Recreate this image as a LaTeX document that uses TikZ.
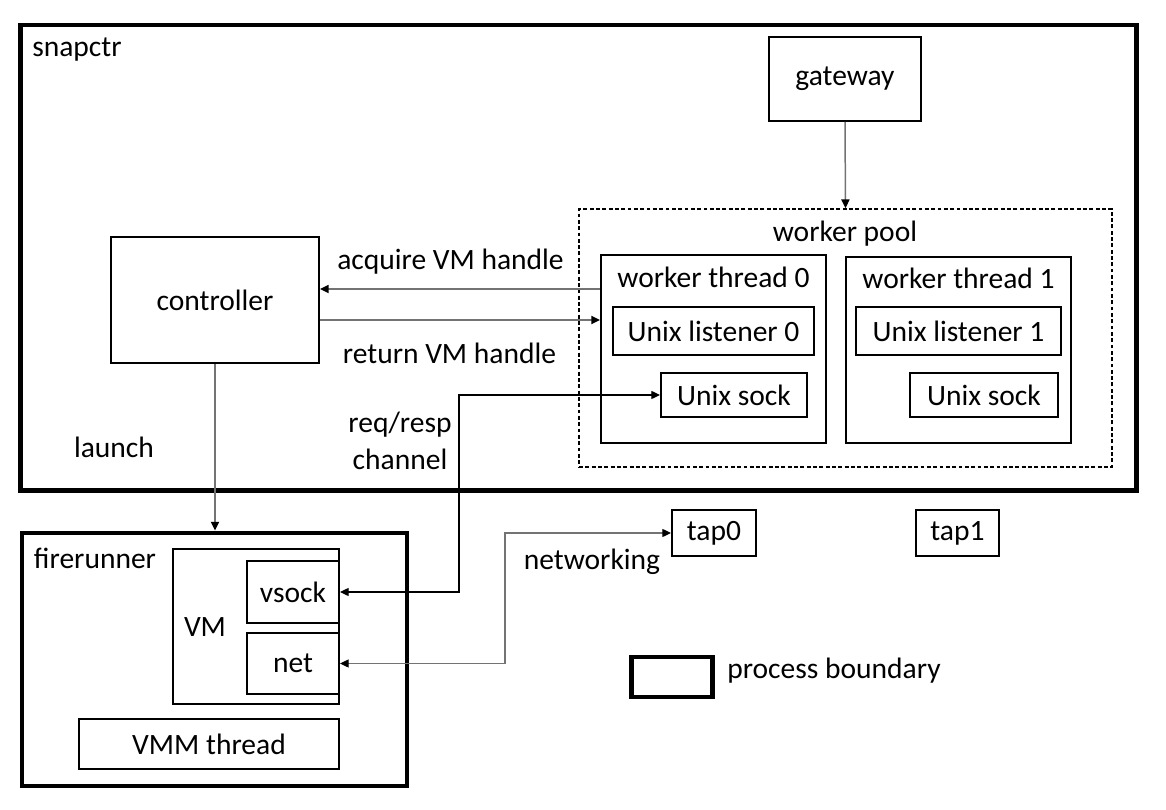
\documentclass[tikz,border=0pt]{standalone}
\usepackage{fontspec}
\setmainfont{Carlito}
\usepackage{tikz}
\usetikzlibrary{arrows.meta,positioning,calc}
\newcommand{\figfont}{\fontsize{16.8}{21}\selectfont}

\begin{document}
\begin{tikzpicture}[x=0.02cm, y=-0.02cm,
      box/.style={draw, line width=1.1pt, inner sep=0pt, font=\figfont, align=center},
      proc/.style={draw, line width=2.8pt, inner sep=0pt},
      pool/.style={draw, line width=0.9pt, dash pattern=on 2.2pt off 1.4pt, inner sep=0pt},
      txt/.style={inner sep=0pt, font=\figfont, align=center},
      arr/.style={-{Triangle[length=5pt,width=4.6pt,color=black]}, line width=0.85pt, color=black!55},
      dbl/.style={{Triangle[length=5pt,width=4.6pt,color=black]}-{Triangle[length=5pt,width=4.6pt,color=black]}, line width=0.7pt}
  ]
    \useasboundingbox (0,0) rectangle (1166,810);
    \node[proc, minimum width=22.32cm, minimum height=9.32cm] (snap) at (578.5,258) {};
    \node[txt] (snaplbl) at (77,50) {snapctr};
    \node[box, minimum width=3.04cm, minimum height=1.68cm] (gw) at (845,79) {gateway};
    \node[pool, minimum width=10.66cm, minimum height=5.16cm] (wpool) at (845.5,338) {};
    \node[txt] (poollbl) at (845,234) {worker pool};
    \node[box, minimum width=4.5cm, minimum height=3.76cm] (wt0) at (713.5,349) {};
    \node[txt] (wt0lbl) at (713.5,277) {worker thread 0};
    \node[box, minimum width=4.02cm, minimum height=0.96cm] (ul0) at (713.5,331) {Unix listener 0};
    \node[box, minimum width=2.92cm, minimum height=0.88cm] (us0) at (734,395) {Unix sock};
    \node[box, minimum width=4.5cm, minimum height=3.72cm] (wt1) at (958.5,350) {};
    \node[txt] (wt1lbl) at (958.5,278) {worker thread 1};
    \node[box, minimum width=4.1cm, minimum height=0.96cm] (ul1) at (958.5,331) {Unix listener 1};
    \node[box, minimum width=2.96cm, minimum height=0.88cm] (us1) at (984,395) {Unix sock};
    \node[box, minimum width=4.16cm, minimum height=2.52cm] (ctrl) at (215,300) {controller};
    \node[txt] (acqlbl) at (450.5,262) {acquire VM handle};
    \node[txt] (retlbl) at (449.5,353) {return VM handle};
    \node[txt] (reqlbl) at (400,441) {req/resp\\channel};
    \node[txt] (launchlbl) at (114,447) {launch};
    \node[proc, minimum width=7.7cm, minimum height=5.06cm] (fire) at (214.5,659.5) {};
    \node[txt] (firelbl) at (95,558) {firerunner};
    \node[box, minimum width=3.32cm, minimum height=3.1cm] (vm) at (256,626.5) {};
    \node[txt] (vmlbl) at (205,627) {VM};
    \node[box, minimum width=1.84cm, minimum height=1.24cm] (vsock) at (293,592) {vsock};
    \node[box, minimum width=1.84cm, minimum height=1.22cm] (net) at (293,663.5) {net};
    \node[box, minimum width=5.2cm, minimum height=1.0cm] (vmm) at (209,744) {VMM thread};
    \node[box, minimum width=1.68cm, minimum height=0.92cm] (tap0) at (714,533) {tap0};
    \node[box, minimum width=1.66cm, minimum height=0.92cm] (tap1) at (957.5,533) {tap1};
    \node[txt] (netlbl) at (592,562) {networking};
    \node[proc, line width=2.4pt, minimum width=1.62cm, minimum height=0.8cm] (legend) at (672,677) {};
    \node[txt, anchor=west] (legendlbl) at (727,671) {process boundary};
    \coordinate (acq) at ([yshift=1.2cm]wt0.west);
    \coordinate (ret) at ([yshift=0.58cm]wt0.west);
    \draw[arr] (gw.south) -- (wpool.north);
    \draw[arr] (acq) -- (acq -| ctrl.east);
    \draw[arr] (ctrl.east |- ret) -- (ret);
    \draw[arr] (ctrl.south) -- (ctrl.south |- fire.north);
    \draw[dbl] (vsock.east) -| ([xshift=-4.02cm]us0.west) -- (us0.west);
    \draw[dbl, color=black!55] (net.east) -| ([xshift=-3.32cm]tap0.west) -- (tap0.west);
  \end{tikzpicture}
\end{document}
